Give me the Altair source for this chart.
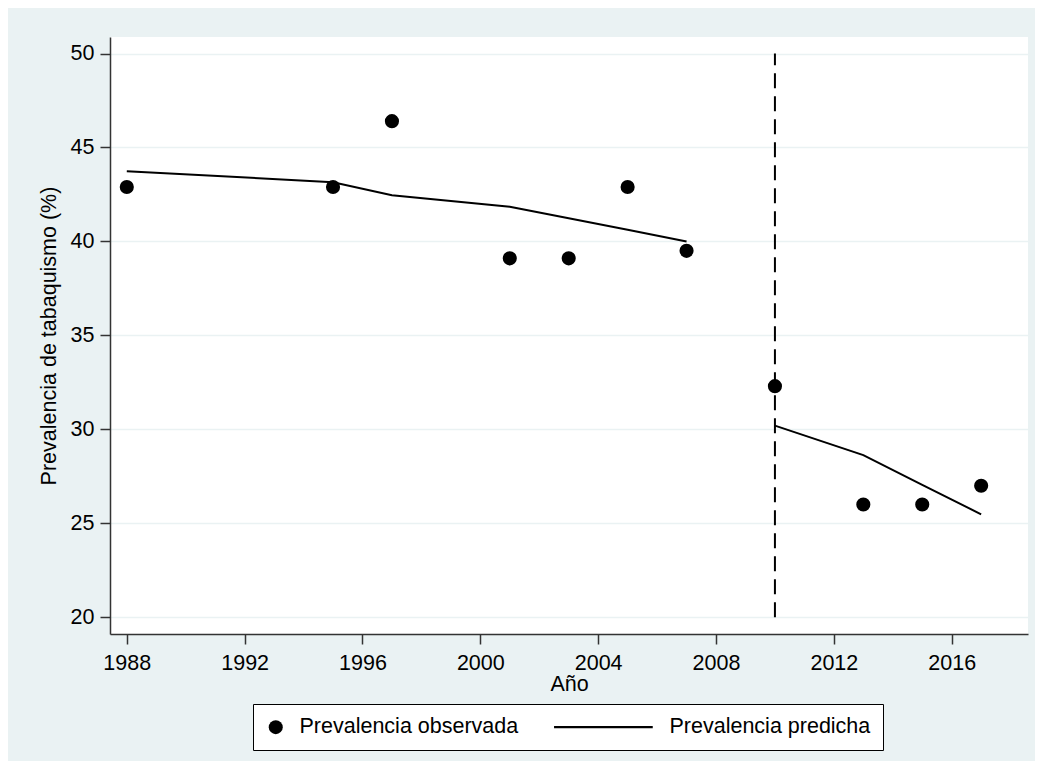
import altair as alt
import pandas as pd

# ---- data ----
anios = [1988, 1995, 1997, 2001, 2003, 2005, 2007, 2010, 2013, 2015, 2017]
observada = [42.9, 42.9, 46.4, 39.1, 39.1, 42.9, 39.5, 32.3, 26.0, 26.0, 27.0]
predicha = [43.74, 43.15, 42.46, 41.85, 41.23, 40.62, 40.0, 30.2, 28.63, 27.05, 25.48]
periodo = ["antes"] * 7 + ["despues"] * 4
x_ticks = [1988, 1992, 1996, 2000, 2004, 2008, 2012, 2016]
y_ticks = [20, 25, 30, 35, 40, 45, 50]
corte_anio = [2010]
corte_desde = [20]
corte_hasta = [50]
serie_obs = "Prevalencia observada"
serie_pred = "Prevalencia predicha"

FONT = "Liberation Sans"
BG = "#EAF2F3"
FS = 21.5

df = pd.DataFrame({
    "anio": anios,
    "obs": observada,
    "pred": predicha,
    "periodo": periodo,
    "serie": [serie_obs] * len(anios),
})
df_corte = pd.DataFrame({"anio": corte_anio, "y1": corte_desde, "y2": corte_hasta})

x_scale = alt.Scale(domain=[1987.43, 2018.59], nice=False, zero=False)
y_scale = alt.Scale(domain=[19.11, 50.88], nice=False, zero=False)

x_axis = alt.Axis(values=x_ticks, format="d", title="Año", grid=False)
y_axis = alt.Axis(values=y_ticks, title="Prevalencia de tabaquismo (%)", grid=True)

# legend glyph for the fitted line: a thin filled bar drawn as a symbol path
line_path = "M-13.1,-0.15L1,-0.15L1,0.15L-13.1,0.15Z"

puntos = alt.Chart(df).mark_point(
    filled=True, color="black", opacity=1, size=200
).encode(
    x=alt.X("anio:Q", scale=x_scale, axis=x_axis),
    y=alt.Y("obs:Q", scale=y_scale, axis=y_axis),
    shape=alt.Shape(
        "serie:N",
        scale=alt.Scale(domain=[serie_obs, serie_pred], range=["circle", line_path]),
        legend=alt.Legend(
            title=None,
            orient="none",
            legendX=143,
            legendY=667,
            direction="horizontal",
            columns=2,
            columnPadding=32,
            padding=12,
            strokeColor="black",
            fillColor="white",
            cornerRadius=0,
            symbolSize=196,
            symbolFillColor="black",
            symbolOpacity=1,
            labelFont=FONT,
            labelFontSize=FS,
            labelColor="black",
            labelOffset=13,
            labelLimit=400,
        ),
    ),
)

lineas = alt.Chart(df).mark_line(color="black", strokeWidth=2).encode(
    x=alt.X("anio:Q", scale=x_scale),
    y=alt.Y("pred:Q", scale=y_scale),
    detail="periodo:N",
)

corte = alt.Chart(df_corte).mark_rule(color="black", strokeWidth=2, strokeDash=[15, 8]).encode(
    x=alt.X("anio:Q", scale=x_scale),
    y=alt.Y("y1:Q", scale=y_scale),
    y2="y2:Q",
)

chart = alt.layer(corte, lineas, puntos).properties(
    width=918,
    height=597,
    autosize=alt.AutoSizeParams(type="none"),
    padding={"left": 102, "top": 29, "right": 7, "bottom": 127},
    background=BG,
).configure_view(
    fill="white",
    strokeWidth=0,
).configure_axis(
    labelFont=FONT,
    titleFont=FONT,
    labelFontSize=FS,
    titleFontSize=FS,
    labelColor="black",
    titleColor="black",
    titleFontWeight="normal",
    domainColor="#333333",
    domainWidth=1.5,
    tickColor="#333333",
    tickWidth=1.5,
    tickSize=10,
    gridColor=BG,
    gridWidth=1.5,
).configure_axisX(
    labelPadding=8,
    titlePadding=0,
).configure_axisY(
    labelPadding=6,
    titlePadding=10,
    labelAngle=0,
)

chart.save("out.html", embed_options={"renderer": "svg", "actions": False})
